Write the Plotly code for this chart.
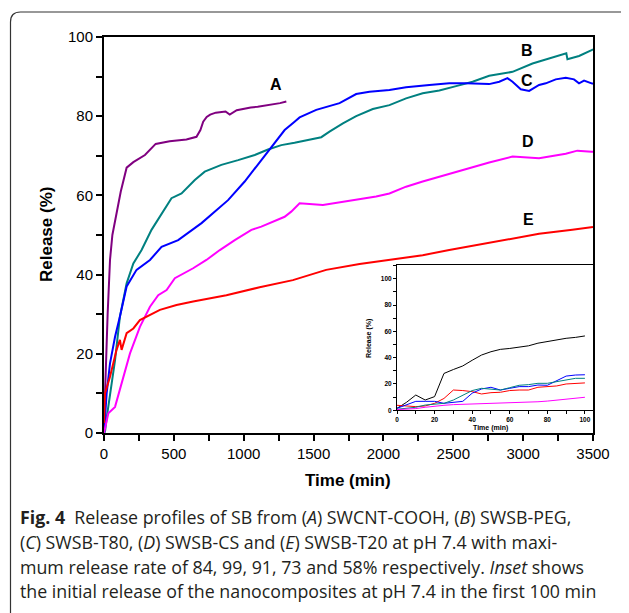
import plotly.graph_objects as go

# ---------------- data ----------------
A_t = [0, 7, 15, 26, 43, 60, 90, 120, 162, 210, 293, 370, 470, 590, 662, 690, 710, 735, 760, 800,
       870, 900, 950, 1000, 1050, 1100, 1160, 1220, 1260, 1305]
A_v = [2, 11, 20, 30, 43.7, 50, 55.5, 61, 67, 68.4, 70.2, 73, 73.7, 74.1, 74.8, 76.5, 78.6, 79.8, 80.4, 80.9,
       81.2, 80.4, 81.5, 81.9, 82.2, 82.4, 82.7, 83.1, 83.3, 83.7]

B_t = [0, 7, 20, 43, 79, 114, 162, 210, 269, 340, 400, 483, 555, 650, 721, 840, 960, 1079, 1174, 1269,
       1364, 1448, 1555, 1614, 1710, 1805, 1924, 2043, 2162, 2281, 2400, 2520, 2638, 2757, 2924, 3067,
       3186, 3309, 3317, 3400, 3490, 3500]
B_v = [0, 0.3, 4, 9.2, 18.4, 29.4, 37.8, 42.8, 46.2, 51.3, 54.8, 59.3, 60.5, 63.9, 66, 67.7, 68.9, 70.2, 71.6, 72.7,
       73.3, 74, 74.7, 76.1, 78.2, 80, 81.8, 82.8, 84.5, 85.8, 86.5, 87.6, 88.7, 90.2, 91.2, 93.3,
       94.6, 95.9, 94.4, 95.2, 96.7, 96.9]

C_t = [0, 19, 43, 79, 114, 162, 233, 329, 412, 531, 698, 888, 1007, 1126, 1198, 1293, 1364, 1400, 1519, 1686,
       1805, 1900, 2043, 2162, 2329, 2471, 2590, 2757, 2829, 2888, 2924, 2983, 3043, 3114, 3162, 3233,
       3305, 3364, 3400, 3436, 3490, 3500]
C_v = [0, 10, 17.6, 24.3, 29.4, 37, 41.2, 43.7, 47, 48.7, 53, 58.8, 63.5, 68.9, 72.3, 76.5, 78.6, 79.7, 81.6, 83.3,
       85.6, 86.2, 86.6, 87.3, 87.9, 88.3, 88.3, 88.1, 88.7, 89.6, 88.7, 86.8, 86.4, 87.9, 88.3, 89.3,
       89.7, 89.3, 88.3, 89, 88.3, 88.2]

D_t = [0, 31, 79, 126, 186, 257, 329, 388, 448, 507, 638, 733, 829, 936, 1055, 1126, 1293, 1340, 1400, 1567,
       1805, 1948, 2043, 2162, 2281, 2400, 2590, 2757, 2924, 3114, 3305, 3388, 3490, 3500]
D_v = [0, 5, 6.6, 12.5, 20.1, 26.8, 31.9, 34.8, 36.1, 39.1, 41.6, 43.7, 46.2, 48.7, 51.3, 52.1, 54.6, 55.9, 58, 57.6,
       58.8, 59.7, 60.5, 62.2, 63.5, 64.7, 66.8, 68.3, 69.8, 69.4, 70.5, 71.3, 71, 71]

E_t = [0, 7, 43, 67, 90, 114, 126, 162, 210, 257, 305, 400, 519, 638, 876, 1114, 1352, 1590, 1829, 2043,
       2281, 2471, 2876, 3114, 3352, 3490, 3500]
E_v = [2.5, 10, 14.2, 17.6, 21, 23.5, 21, 25.2, 26.4, 28.5, 29.4, 31.1, 32.3, 33.2, 34.8, 36.8, 38.6, 41.2, 42.7, 43.7,
       44.9, 46.2, 48.7, 50.3, 51.3, 51.9, 52]

# inset (first 100 min)
inset_t = [0, 5, 10, 15, 20, 25, 30, 35, 40, 45, 50, 55, 60, 65, 70, 75, 80, 85, 90, 95, 100]
inset_black = [1.5, 6, 11.6, 7.8, 10.4, 28, 31, 33.7, 38, 42, 44.5, 46.3, 47, 48, 49, 51, 52.4, 53.4, 54.7, 55.4, 56.5]
inset_red = [3.8, 3.3, 2.8, 3.3, 5.3, 9, 15.4, 15, 14.2, 12.4, 13.4, 13.7, 15, 15.4, 15.4, 17.5, 18, 18.5, 20, 20.5, 20.8]
inset_blue = [1.5, 4, 6.8, 6.8, 6.8, 5.3, 5.8, 6.8, 13, 16.2, 17.5, 15.4, 16.7, 18, 18, 19.2, 19, 22.5, 26, 26.8, 27]
inset_teal = [0.8, 1.5, 2.3, 4, 4.5, 5.3, 7.8, 11.6, 15, 16.7, 16, 15.4, 17.2, 19, 19.5, 20.5, 20.5, 21.8, 23, 24.3, 24.3]
inset_magenta = [0.5, 0.9, 1.3, 2.3, 3.3, 3.8, 4.3, 4.5, 4.8, 4.9, 5, 5.3, 5.6, 5.8, 6, 6.5, 7, 7.6, 8.3, 9, 9.9]

series_names = ["A", "B", "C", "D", "E"]
x_ticks = [0, 500, 1000, 1500, 2000, 2500, 3000, 3500]
y_ticks = [0, 20, 40, 60, 80, 100]
inset_ticks = [0, 20, 40, 60, 80, 100]

caption_lines = [
    "<b>Fig.\u00a04</b>\u00a0\u00a0Release profiles of SB from (<i>A</i>) SWCNT-COOH, (<i>B</i>) SWSB-PEG,",
    "(<i>C</i>) SWSB-T80, (<i>D</i>) SWSB-CS and (<i>E</i>) SWSB-T20 at pH 7.4 with maxi-",
    "mum release rate of 84, 99, 91, 73 and 58% respectively. <i>Inset</i> shows",
    "the initial release of the nanocomposites at pH 7.4 in the first 100 min",
]

# ---------------- layout constants ----------------
OFF = 8                      # page body margin of the browser
W, H = 629 - OFF, 613 - OFF
ML, MT = 104 - OFF, 37 - OFF
PW, PH = 489, 396
MR, MB = W - ML - PW, H - MT - PH


def px(xp):
    """reference screen x -> paper coordinate"""
    return (xp - OFF - ML) / PW


def py(yp):
    """reference screen y -> paper coordinate"""
    return (MT + PH - (yp - OFF)) / PH


COL = {"A": "#800080", "B": "#008080", "C": "#0000ff", "D": "#ff00ff", "E": "#ff0000"}
TICKFONT = "Liberation Sans, Arial, sans-serif"
CAPFONT = "Open Sans, Noto Sans, sans-serif"

fig = go.Figure()
main_sets = [(A_t, A_v), (B_t, B_v), (C_t, C_v), (D_t, D_v), (E_t, E_v)]
for name, (t, v) in zip(series_names, main_sets):
    fig.add_trace(go.Scatter(x=t, y=v, mode="lines", name=name,
                             line=dict(color=COL[name], width=2), xaxis="x", yaxis="y",
                             showlegend=False))

inset_sets = [(inset_black, "#000000"), (inset_red, "#ff0000"), (inset_blue, "#0000ff"),
              (inset_teal, "#008080"), (inset_magenta, "#ff00ff")]
for vals, c in inset_sets:
    fig.add_trace(go.Scatter(x=inset_t, y=vals, mode="lines", line=dict(color=c, width=1),
                             xaxis="x2", yaxis="y2", showlegend=False))

# curve labels
label_pos = {"A": (1234, 87.9), "B": (3031, 96.7), "C": (3031, 89.1), "D": (3038, 73.7), "E": (3038, 53.8)}
annotations = []
for name in series_names:
    lx, ly = label_pos[name]
    annotations.append(dict(x=lx, y=ly, xref="x", yref="y", text="<b>%s</b>" % name, showarrow=False,
                            font=dict(family=TICKFONT, size=16, color="black"),
                            xanchor="center", yanchor="middle"))

# axis titles
annotations.append(dict(x=px(348), y=py(481), xref="paper", yref="paper", text="<b>Time (min)</b>",
                        showarrow=False, font=dict(family=TICKFONT, size=17, color="black"),
                        xanchor="center", yanchor="middle"))
annotations.append(dict(x=px(46), y=py(235), xref="paper", yref="paper", text="<b>Release (%)</b>",
                        showarrow=False, textangle=-90, font=dict(family=TICKFONT, size=17, color="black"),
                        xanchor="center", yanchor="middle"))
# inset titles
annotations.append(dict(x=px(490.5), y=py(428), xref="paper", yref="paper", text="<b>Time (min)</b>",
                        showarrow=False, font=dict(family=TICKFONT, size=7, color="black"),
                        xanchor="center", yanchor="middle"))
annotations.append(dict(x=px(369), y=py(339), xref="paper", yref="paper", text="<b>Release (%)</b>",
                        showarrow=False, textangle=-90, font=dict(family=TICKFONT, size=7, color="black"),
                        xanchor="center", yanchor="middle"))

# caption
cap_y = [517, 542, 566.5, 591]
for txt, yy in zip(caption_lines, cap_y):
    annotations.append(dict(x=px(18), y=py(yy), xref="paper", yref="paper", text=txt, showarrow=False,
                            font=dict(family=CAPFONT, size=17.8, color="#231f20"),
                            xanchor="left", yanchor="middle"))

# figure frame (rounded top-left corner)
frame_path = "M %f,%f L %f,%f Q %f,%f %f,%f L %f,%f" % (
    px(10.5), py(640), px(10.5), py(22), px(10.5), py(12), px(20.5), py(12), px(660), py(12))
shapes = [dict(type="path", path=frame_path, xref="paper", yref="paper",
               line=dict(color="#333333", width=1.2), layer="above")]

axis_common = dict(showgrid=False, zeroline=False, linecolor="black", showline=True, mirror=True,
                   ticks="outside", tickcolor="black")

fig.update_layout(
    width=W, height=H, autosize=False,
    margin=dict(l=ML, r=MR, t=MT, b=MB, pad=0),
    paper_bgcolor="white", plot_bgcolor="white",
    xaxis=dict(range=[0, 3500], tickvals=x_ticks, ticktext=[str(v) for v in x_ticks],
               linewidth=2, ticklen=6, tickwidth=1.5,
               minor=dict(dtick=250, tick0=0, ticklen=6, tickwidth=1.5, ticks="outside", tickcolor="black"),
               tickfont=dict(family=TICKFONT, size=15, color="black"), domain=[0, 1],
               **axis_common),
    yaxis=dict(range=[0, 100], tickvals=y_ticks, ticktext=[str(v) for v in y_ticks],
               linewidth=2, ticklen=6, tickwidth=1.5,
               minor=dict(dtick=10, tick0=0, ticklen=6, tickwidth=1.5, ticks="outside", tickcolor="black"),
               tickfont=dict(family=TICKFONT, size=15, color="black"), domain=[0, 1],
               **axis_common),
    xaxis2=dict(range=[0, 104.3], domain=[px(397), 1.0], anchor="y2", tickvals=inset_ticks,
                ticktext=["<b>%d</b>" % v for v in inset_ticks],
                linewidth=1, ticklen=3, tickwidth=1,
                minor=dict(dtick=10, tick0=0, ticklen=3, tickwidth=1, ticks="outside", tickcolor="black"),
                tickfont=dict(family=TICKFONT, size=6.5, color="black"), **axis_common),
    yaxis2=dict(range=[0, 110.4], domain=[py(410.3), py(265)], anchor="x2", tickvals=inset_ticks,
                ticktext=["<b>%d</b>" % v for v in inset_ticks],
                linewidth=1, ticklen=3, tickwidth=1,
                minor=dict(dtick=10, tick0=0, ticklen=3, tickwidth=1, ticks="outside", tickcolor="black"),
                tickfont=dict(family=TICKFONT, size=6.5, color="black"), **axis_common),
    annotations=annotations,
    shapes=shapes,
)

fig.write_html("out.html")
